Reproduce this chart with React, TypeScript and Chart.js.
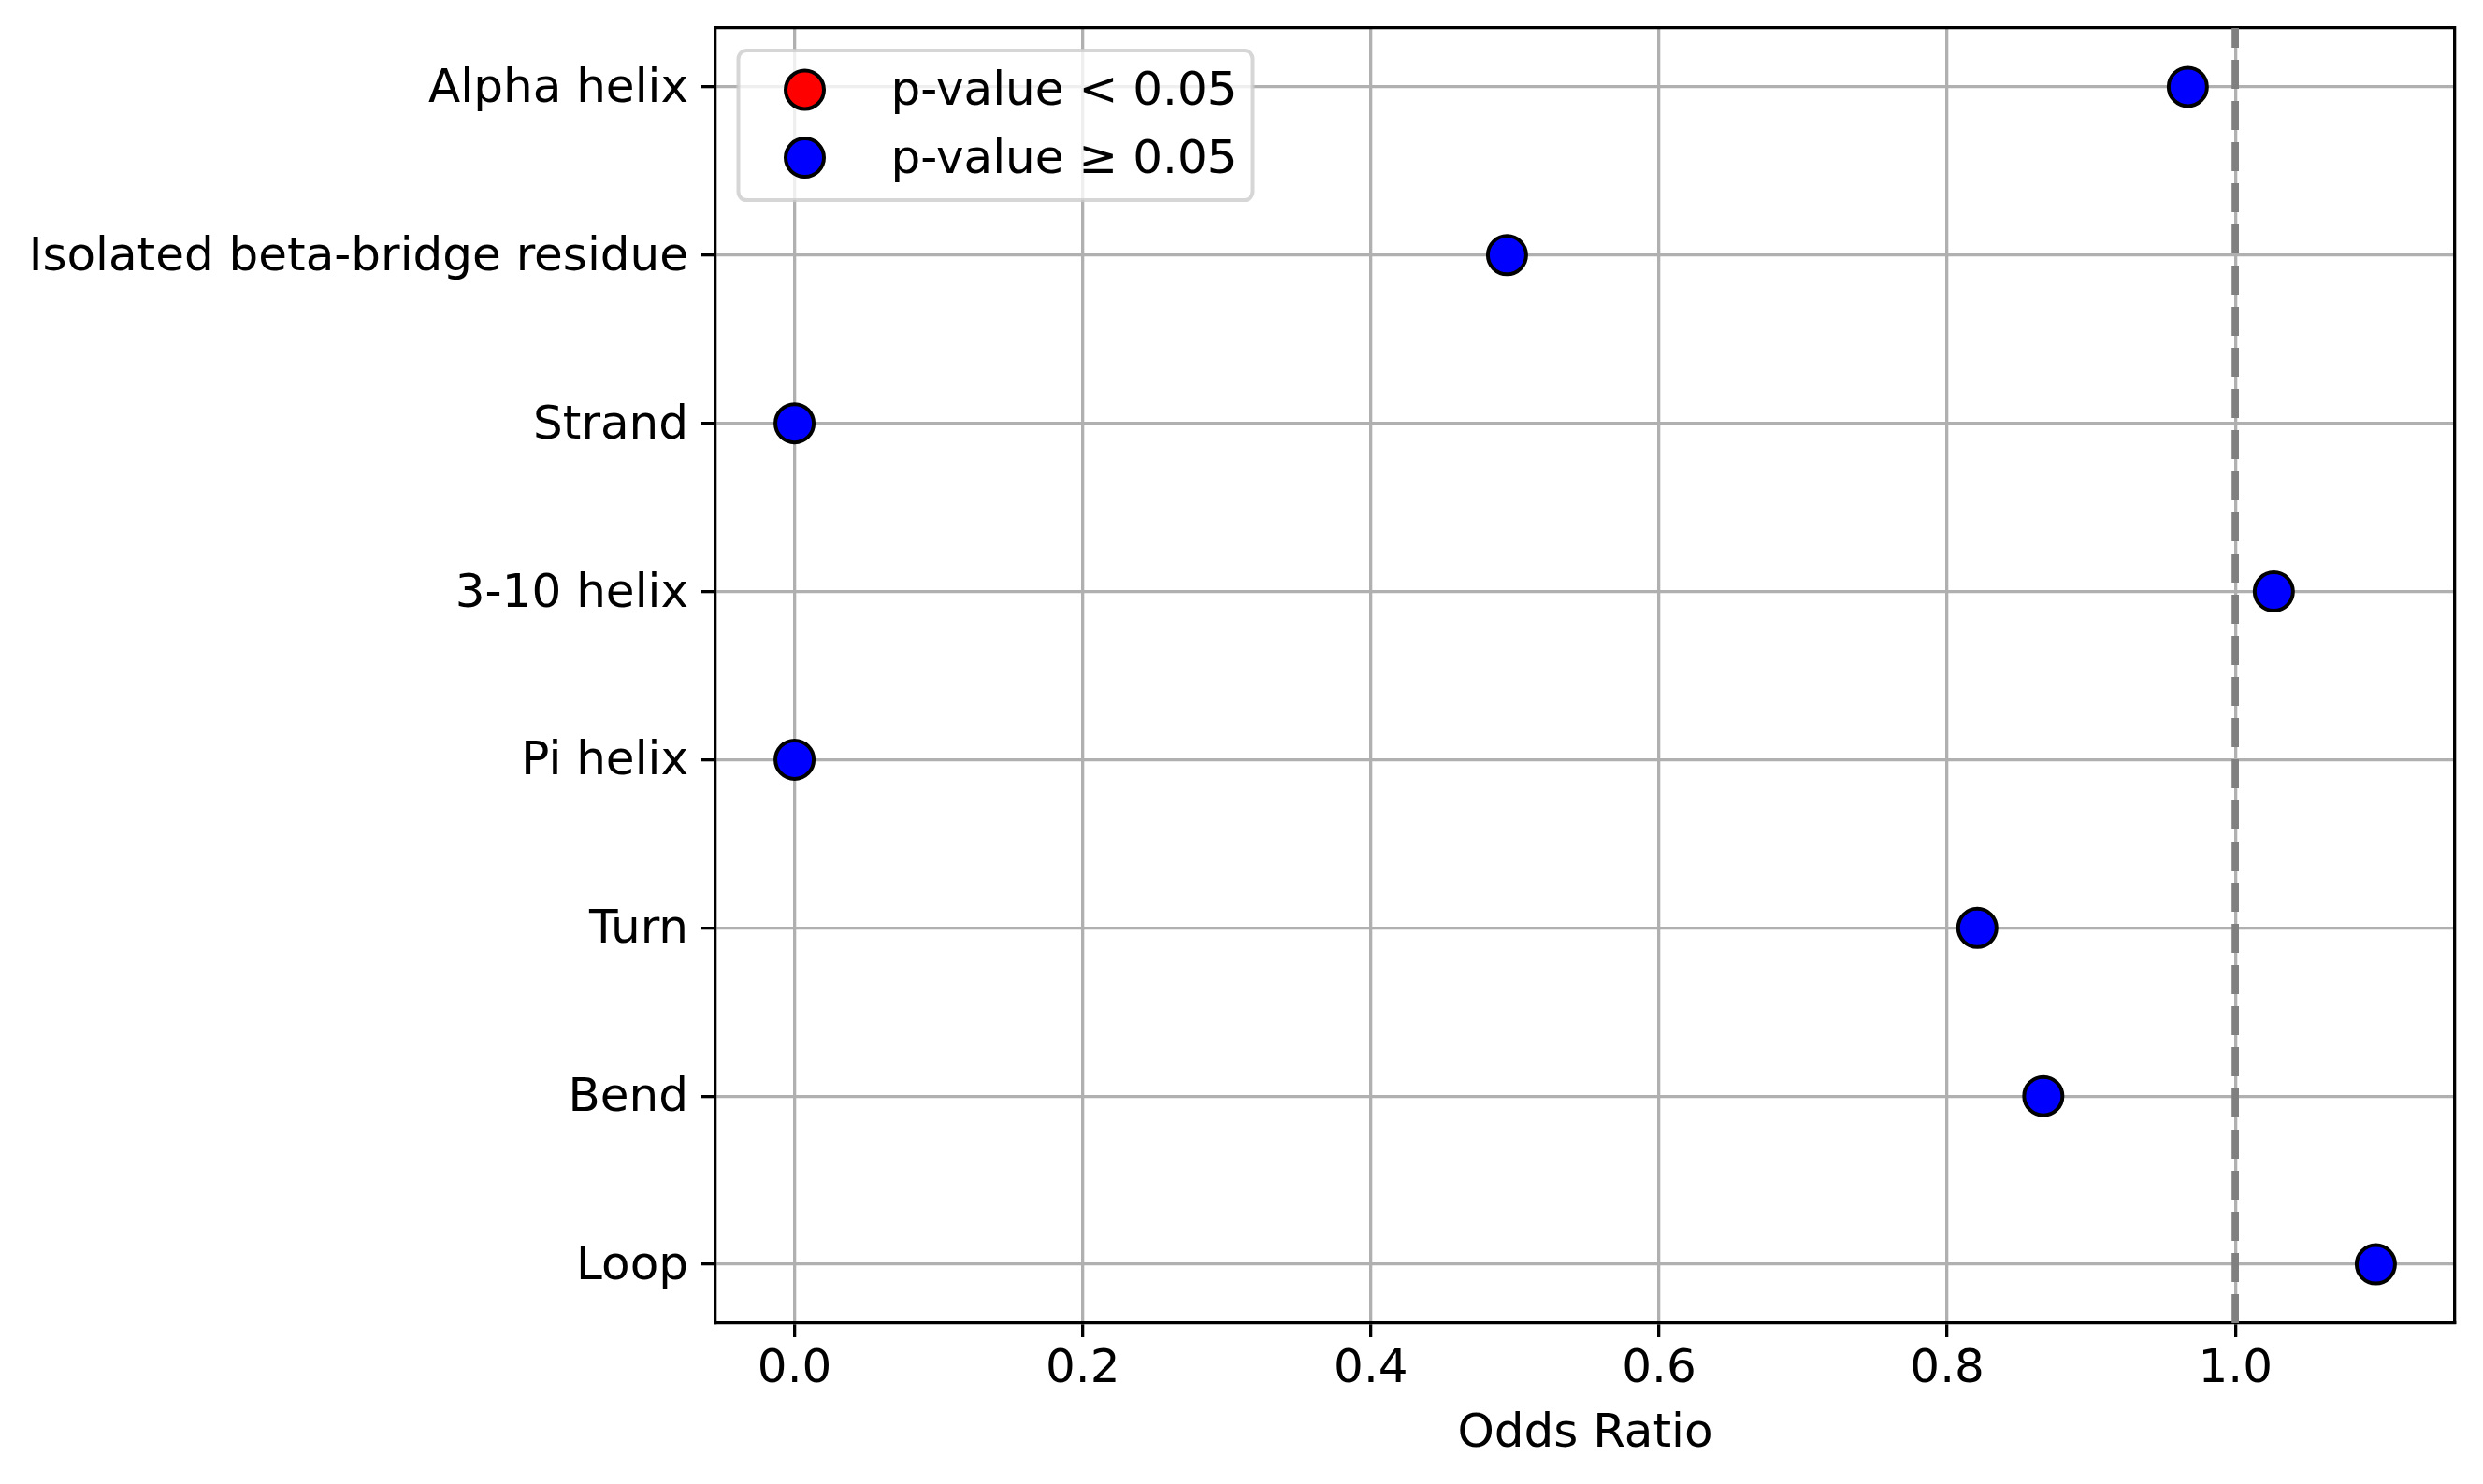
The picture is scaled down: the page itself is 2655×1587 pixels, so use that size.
import React, { useEffect, useRef } from 'react';
import { Chart, registerables } from 'chart.js';

Chart.register(...registerables);

// ---- data ----
const categories = [
  'Alpha helix',
  'Isolated beta-bridge residue',
  'Strand',
  '3-10 helix',
  'Pi helix',
  'Turn',
  'Bend',
  'Loop',
];
const oddsRatios = [0.967, 0.4945, 0.0, 1.0267, 0.0, 0.8209, 0.8667, 1.0975];
const significant = [false, false, false, false, false, false, false, false];
const xTickValues = [0, 0.2, 0.4, 0.6, 0.8, 1.0];
const referenceOdds = 1.0;
const legendSig = 'p-value < 0.05';
const legendNonSig = 'p-value \u2265 0.05';
const xAxisTitle = 'Odds Ratio';

const X_MIN = -0.0549;
const X_MAX = 1.1524;
const Y_MIN = -0.35;
const Y_MAX = 7.35;

const FONT = '"DejaVu Sans", "Liberation Sans", sans-serif';
const FS = 50;

const mplPlugin = {
  id: 'mplExtras',
  afterDraw(chart: any) {
    const ctx = chart.ctx as CanvasRenderingContext2D;
    const area = chart.chartArea;
    // redraw reference line over grid
    const idx = chart.data.datasets.findIndex((d: any) => d.type === 'line');
    if (idx >= 0) {
      const meta = chart.getDatasetMeta(idx);
      ctx.save();
      ctx.beginPath();
      ctx.rect(area.left, area.top, area.right - area.left, area.bottom - area.top);
      ctx.clip();
      meta.controller.draw();
      ctx.restore();
    }
    // legend
    const items = chart.data.datasets.filter((d: any) => d.type !== 'line');
    ctx.save();
    ctx.font = `${FS}px ${FONT}`;
    const textW = Math.max(...items.map((d: any) => ctx.measureText(d.label).width));
    const left = area.left + 24.5;
    const top = area.top + 24;
    const w = 20 + 100 + 40 + textW + 20;
    const rowH = 72.6;
    const firstRow = 42;
    const h = firstRow + rowH * (items.length - 1) + 45.5;
    const r = 9;
    ctx.beginPath();
    ctx.moveTo(left + r, top);
    ctx.lineTo(left + w - r, top);
    ctx.arcTo(left + w, top, left + w, top + r, r);
    ctx.lineTo(left + w, top + h - r);
    ctx.arcTo(left + w, top + h, left + w - r, top + h, r);
    ctx.lineTo(left + r, top + h);
    ctx.arcTo(left, top + h, left, top + h - r, r);
    ctx.lineTo(left, top + r);
    ctx.arcTo(left, top, left + r, top, r);
    ctx.closePath();
    ctx.fillStyle = 'rgba(255,255,255,0.8)';
    ctx.fill();
    ctx.lineWidth = 4;
    ctx.strokeStyle = 'rgba(204,204,204,0.8)';
    ctx.stroke();
    items.forEach((d: any, i: number) => {
      const y = top + firstRow + i * rowH;
      ctx.beginPath();
      ctx.arc(left + 71, y, d.pointRadius, 0, Math.PI * 2);
      ctx.fillStyle = d.backgroundColor;
      ctx.fill();
      ctx.lineWidth = d.pointBorderWidth;
      ctx.strokeStyle = d.borderColor;
      ctx.stroke();
      ctx.fillStyle = '#000';
      ctx.textAlign = 'left';
      ctx.textBaseline = 'middle';
      ctx.fillText(d.label, left + 163, y + 3);
    });
    ctx.restore();
  },
};

export default function App() {
  const ref = useRef<HTMLCanvasElement>(null);
  useEffect(() => {
    if (!ref.current) return;
    const sigData = oddsRatios
      .map((v, i) => ({ x: v, y: i, s: significant[i] }))
      .filter((p) => p.s)
      .map(({ x, y }) => ({ x, y }));
    const nonSigData = oddsRatios
      .map((v, i) => ({ x: v, y: i, s: significant[i] }))
      .filter((p) => !p.s)
      .map(({ x, y }) => ({ x, y }));
    const pointStyle = {
      pointRadius: 20.5,
      pointHoverRadius: 20.5,
      pointBorderWidth: 4,
      pointHoverBorderWidth: 4,
      borderColor: '#000000',
    };
    const chart = new Chart(ref.current, {
      type: 'scatter',
      data: {
        datasets: [
          {
            type: 'line',
            label: 'reference',
            data: [
              { x: referenceOdds, y: Y_MAX },
              { x: referenceOdds, y: Y_MIN },
            ],
            borderColor: '#808080',
            borderWidth: 7.5,
            borderDash: [31, 13],
            pointRadius: 0,
            pointHoverRadius: 0,
            fill: false,
            tension: 0,
            order: 2,
          } as any,
          {
            type: 'scatter',
            label: legendSig,
            data: sigData,
            backgroundColor: '#ff0000',
            pointBackgroundColor: '#ff0000',
            ...pointStyle,
            order: 1,
          } as any,
          {
            type: 'scatter',
            label: legendNonSig,
            data: nonSigData,
            backgroundColor: '#0000ff',
            pointBackgroundColor: '#0000ff',
            ...pointStyle,
            order: 1,
          } as any,
        ],
      },
      options: {
        animation: false,
        responsive: false,
        maintainAspectRatio: false,
        devicePixelRatio: 1,
        events: [],
        layout: { padding: { left: 0, right: 30, top: 30, bottom: 0 } },
        plugins: {
          legend: { display: false },
          tooltip: { enabled: false },
          title: { display: false },
        },
        scales: {
          x: {
            type: 'linear',
            position: 'bottom',
            min: X_MIN,
            max: X_MAX,
            z: 1,
            afterBuildTicks: (scale: any) => {
              scale.ticks = xTickValues.map((v) => ({ value: v }));
            },
            afterFit: (scale: any) => {
              scale.height = 172;
              scale.paddingLeft = 0;
              scale.paddingRight = 0;
            },
            ticks: {
              autoSkip: false,
              maxRotation: 0,
              padding: 5,
              color: '#000',
              font: { family: FONT, size: FS },
              callback: (v: any) => Number(v).toFixed(1),
            },
            grid: {
              color: '#b0b0b0',
              lineWidth: 3.3,
              drawTicks: true,
              tickLength: 15,
              tickColor: '#000',
              tickWidth: 3.3,
            },
            border: { display: true, color: '#000', width: 3.3 },
            title: {
              display: true,
              text: xAxisTitle,
              color: '#000',
              font: { family: FONT, size: FS },
              padding: { top: 0, bottom: 23 },
            },
          },
          y: {
            type: 'linear',
            position: 'left',
            min: Y_MIN,
            max: Y_MAX,
            reverse: true,
            z: 1,
            afterBuildTicks: (scale: any) => {
              scale.ticks = categories.map((_, i) => ({ value: i }));
            },
            afterFit: (scale: any) => {
              scale.width = 765;
              scale.paddingTop = 0;
              scale.paddingBottom = 0;
            },
            ticks: {
              autoSkip: false,
              padding: 14,
              labelOffset: 3,
              color: '#000',
              font: { family: FONT, size: FS },
              callback: (v: any) => categories[Math.round(Number(v))] ?? '',
            },
            grid: {
              color: '#b0b0b0',
              lineWidth: 3.3,
              drawTicks: true,
              tickLength: 15,
              tickColor: '#000',
              tickWidth: 3.3,
            },
            border: { display: true, color: '#000', width: 3.3 },
          },
          xTop: {
            type: 'linear',
            position: 'top',
            min: X_MIN,
            max: X_MAX,
            afterFit: (scale: any) => {
              scale.height = 0;
              scale.paddingLeft = 0;
              scale.paddingRight = 0;
            },
            ticks: { display: false },
            grid: { display: false, drawTicks: false, tickLength: 0 },
            border: { display: true, color: '#000', width: 3.3 },
          },
          yRight: {
            type: 'linear',
            position: 'right',
            min: Y_MIN,
            max: Y_MAX,
            afterFit: (scale: any) => {
              scale.width = 0;
              scale.paddingTop = 0;
              scale.paddingBottom = 0;
            },
            ticks: { display: false },
            grid: { display: false, drawTicks: false, tickLength: 0 },
            border: { display: true, color: '#000', width: 3.3 },
          },
        },
      } as any,
      plugins: [mplPlugin],
    });
    return () => chart.destroy();
  }, []);

  return (
    <div
      style={{
        position: 'fixed',
        left: 0,
        top: 0,
        width: 2655,
        height: 1587,
        background: '#ffffff',
      }}
    >
      <canvas
        ref={ref}
        width={2655}
        height={1587}
        style={{ display: 'block', width: 2655, height: 1587 }}
      />
    </div>
  );
}
